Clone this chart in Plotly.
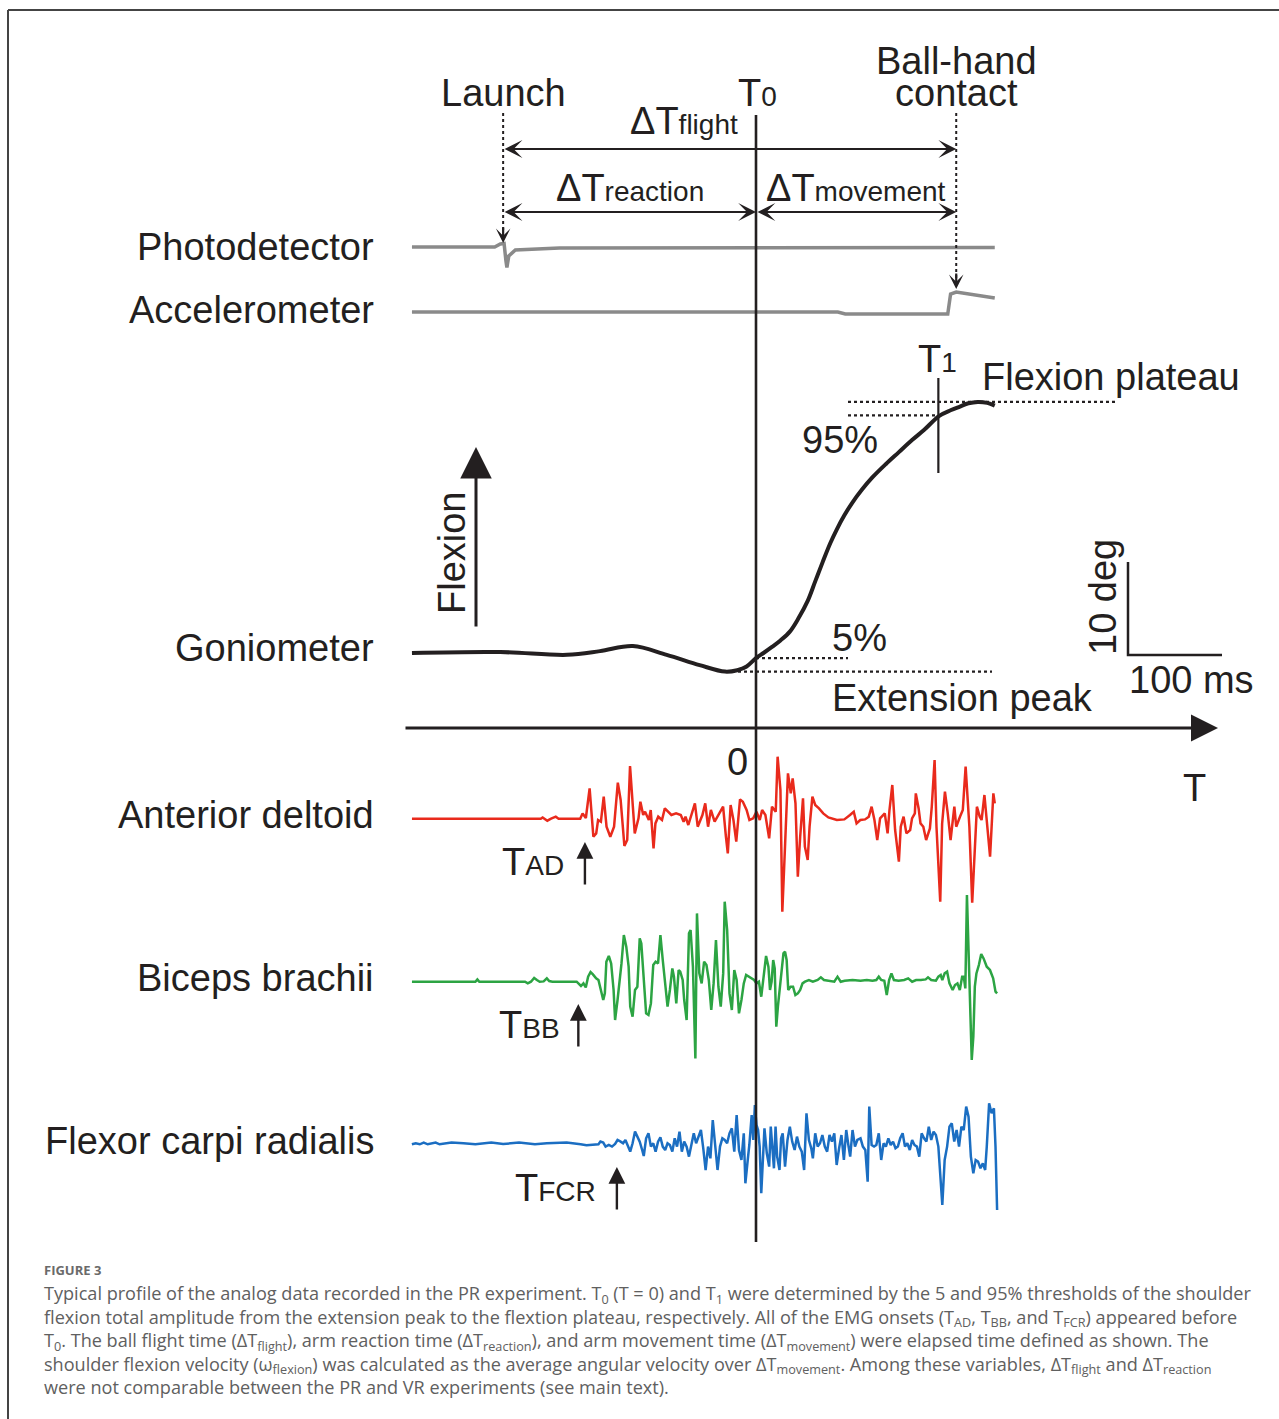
import plotly.graph_objects as go

# ---------------- data (time in ms relative to T0 = 0) ----------------
photo_t = [-366, -278, -272, -268, -266, -265, -263, -256, -209, 0, 254]
photo_v = [0, 0, 3, 3.5, -14, -20.5, -9, -3, -1, -0.5, -0.5]

acc_t = [-366, 87, 95, 204, 207, 213, 254]
acc_v = [0, 0, -2, -2, 18, 20, 14]

gonio_t = [-366, -272, -201, -166, -131, -95, -60, -33, -20, -10, 0, 8, 17, 26, 36, 45,
           55, 63, 71, 79, 86, 94, 102, 113, 124, 138, 152, 166, 179, 195, 207, 217, 226,
           236, 246, 254]
gonio_deg = [0, 0.1, -0.2, 0.2, 0.75, -0.2, -1.3, -2.0, -1.85, -1.45, -0.55, 0.0, 0.65,
             1.35, 2.3, 3.7, 5.6, 7.7, 9.8, 11.8, 13.3, 14.8, 16.1, 17.6, 18.9, 20.3,
             21.6, 22.9, 24.0, 25.5, 26.1, 26.5, 26.85, 27.0, 26.9, 26.6]

ad_t = [-366, -229, -227, -222, -218, -213, -210, -187, -184.5, -181, -177, -173, -170,
        -168, -165, -162, -159, -155, -151, -147, -144, -140, -137, -134, -131, -129,
        -125, -123, -120, -118, -114, -112, -109, -107, -104, -100, -97, -93, -90, -85,
        -80, -77, -75, -72, -69, -65, -62, -59, -57, -54, -51, -48, -44, -41, -37, -35,
        -32, -30, -27, -24, -21, -17, -14, -10, -7, -3, 0.5, 4, 6.5, 10, 14, 17, 21, 23,
        26, 28, 31, 34, 37, 39, 42, 44.5, 47, 50, 52, 55, 57, 60, 63, 67, 71.5, 77, 86,
        94, 100, 104, 107, 111, 116, 120, 123, 126, 129, 132, 137, 140, 142, 145, 148,
        152, 154, 157, 160, 164, 166, 169, 170, 173, 175, 178, 181, 185, 187, 190, 192,
        196, 198, 201, 204, 207, 211, 213, 217, 220, 223, 227, 230, 233, 235, 238, 240,
        243, 246, 249, 252.5, 254]
ad_v = [0, 0, 1.3, -2, 0, 2, 0, 0, 5.3, 0.7, 30.3, -18, -14.7, -1.3, -3, 22, -8, -18,
        -8, 36, 18.7, -27.3, -21.3, 52.7, 12, -14.7, 0.3, 17, 3.7, 7, -1.3, 8.7, -29.7,
        -4.7, 2, -1.3, 10.3, 7, 3.7, 5.3, 3.7, -3, 2, -6.3, 3.7, 15.3, -8, -1.3, 3.7,
        15.3, -8, 8.7, -3, 2, 8.7, 12, -18, -34.7, 13.7, -1.3, -23, 19.3, 17, 8.7, -1.3,
        0.3, 7, -1.3, 8.7, 3.7, -19.7, 12, 7, 62, 28.7, -93, -24.7, 45.3, 25.3, 40.3,
        15.3, -58, -18, 20.3, -28, -41.3, -8, 22, 13.7, 10.3, 5.3, 1.3, -1.3, -0.7, 3.7,
        7, -4.7, -1.3, -0.7, 2, 12, -1.3, -21.3, 0.3, 5.3, -14.7, 8.7, 33.7, -11.3, -43,
        -8, 2, -14.7, -11.3, 0.3, 5.3, 25.3, 10.3, -4.7, -8, -21.3, -9.7, 12, 58.7, -8,
        -83, -5, 27, 5.3, -21.3, 12, -8, 2, 8.7, 52, -8, -84, -18, 12, 2, -1.3, 23.7,
        -11.3, -38, 25.3, 15.3]

bb_t = [-366, -298.5, -296.4, -294.3, -245.7, -242.8, -239.4, -236.0, -233.1, -230.1,
        -225.9, -222.5, -220.0, -216.6, -190.8, -188.7, -186.2, -183.6, -181.1, -178.6,
        -176.0, -173.5, -170.1, -167.6, -165.1, -162.5, -160.8, -159.2, -156.6, -154.1,
        -151.5, -149.9, -147.3, -144.8, -143.1, -140.6, -138.0, -135.5, -133.8, -131.3,
        -128.7, -126.2, -123.7, -122.0, -119.4, -116.9, -114.4, -111.8, -109.3, -106.8,
        -104.2, -101.7, -99.2, -96.6, -94.1, -91.6, -89.0, -87.3, -84.8, -82.3, -80.6,
        -78.0, -76.4, -73.8, -71.3, -69.6, -67.1, -64.5, -62.8, -60.3, -57.8, -55.2,
        -52.7, -50.2, -47.6, -45.1, -42.6, -40.0, -37.5, -34.9, -33.3, -30.7, -28.2,
        -25.7, -23.1, -20.6, -18.1, -15.5, -13.0, -10.5, -7.9, -5.4, -2.0, 0.5, 3.1, 5.6,
        8.1, 10.7, 13.2, 14.9, 16.6, 18.3, 19.9, 21.6, 23.3, 25.9, 27.6, 29.2, 30.9, 32.6,
        34.3, 36.8, 39.4, 41.9, 44.5, 47.0, 49.5, 52.1, 56.3, 60.5, 65.6, 69.0, 72.3,
        77.4, 83.3, 86.7, 90.1, 94.3, 102.7, 111.2, 117.9, 123.9, 128.0, 130.6, 133.2,
        136.5, 139.1, 141.6, 144.1, 146.7, 151.7, 157.6, 161.9, 166.1, 170.3, 175.4,
        180.5, 183.0, 186.4, 191.4, 194.0, 196.5, 198.2, 200.7, 203.3, 205.8, 209.2,
        211.7, 214.3, 216.8, 219.3, 221.0, 222.7, 224.4, 226.1, 227.8, 229.5, 231.2,
        232.8, 234.5, 237.1, 239.6, 242.1, 245.5, 248.9, 252.3, 254.8, 256.5]
bb_v = [0, 0, 2.3, 0, 0, -1.7, 0, 3.7, 1.7, 0, 0.3, 3.3, 0.7, 0, 0, -2.3, -4.3, -1.7,
        -5.7, 5, 9.7, 7.3, 3.3, 1.7, -8.3, -18.3, -11.7, 20, 25.7, 18.3, -8.3, -38.3,
        -18.3, 1.7, 18.3, 46.7, 35, 15, -25, -35, -8.3, -5, 43.3, 38.3, 1.7, -31.7, -33.3,
        -21.7, 16.7, 20, 18.3, 46.7, 21.7, -5, -25, -8.3, 13.3, 5, -21.7, 11.7, 10, 1.7,
        -18.3, -38.3, 48.3, 51.7, 15, -76.7, 68.3, 8.3, -1.7, 20, 16.7, 1.7, -28.3, -1.7,
        41.7, -5, -25, 8.3, 80, 51.7, -11.7, -28.3, 11.7, 1.7, -31.7, -18.3, -1.7, 6.7, 5,
        3.3, 1.7, -1.7, 0, -15, 8.3, 25.7, 15, -8.3, 0, 21.7, 13.3, -45, -25, -1.7, 8.3,
        28.3, 30, 21.7, -8.3, -5, -5, -13.3, -11.7, -8.3, -1.7, 0, 1.7, 0, 1.7, 4.3, 1.7,
        1, 0, 5, 0, 1, 1.7, 1, 1.7, 1, 1.7, 5, 1.7, 1, -13.3, 1.7, 8.3, 1.7, 1, 1.7, 3.3,
        0, 1.7, 1.7, 2.3, 4.3, 1.7, 1, 5, 6.7, 1.7, 8.3, 10, -1.7, -8.3, -3.3, -1.7, -8.3,
        5, 5, -6.7, 86.7, 35, -38.3, -78.3, -55, -5, 8.3, 16.7, 27.7, 23.3, 15, 11.7, 3.3,
        -10, -11.7]

fcr_t = [-366.1, -361.9, -357.7, -353.5, -349.2, -340.8, -336.6, -323.9, -311.2, -298.5,
         -281.6, -269.0, -252.1, -235.2, -222.5, -201.4, -186.6, -180.3, -167.6, -165.5,
         -162.5, -160.0, -156.6, -153.2, -149.9, -147.3, -144.0, -141.4, -138.9, -136.3,
         -133.8, -131.3, -128.7, -126.2, -123.7, -121.1, -119.4, -116.9, -114.4, -111.8,
         -109.3, -106.8, -104.2, -101.7, -99.2, -96.6, -94.1, -91.6, -89.0, -86.5, -84.0,
         -81.4, -78.9, -76.4, -73.8, -71.3, -68.8, -66.2, -63.7, -61.2, -58.6, -56.1,
         -53.6, -51.0, -48.5, -46.0, -43.4, -40.9, -38.3, -35.8, -33.3, -30.7, -28.2,
         -25.7, -23.1, -20.6, -18.1, -15.5, -13.0, -11.3, -8.8, -7.1, -4.6, -2.9, -1.2,
         0.5, 2.2, 3.9, 5.6, 7.3, 9.0, 11.5, 14.0, 15.7, 17.4, 19.1, 20.8, 22.5, 25.0,
         26.7, 28.4, 30.9, 33.5, 36.0, 38.5, 41.1, 43.6, 46.1, 48.7, 51.2, 53.7, 56.3,
         58.8, 60.5, 63.0, 65.6, 68.1, 70.6, 73.2, 75.7, 78.2, 80.8, 83.3, 85.8, 88.4,
         90.9, 93.5, 96.0, 98.5, 100.2, 102.7, 105.3, 107.8, 111.2, 113.7, 116.3, 118.8,
         120.5, 123.0, 125.6, 128.0, 130.6, 133.2, 135.7, 138.2, 140.8, 143.3, 145.8,
         148.4, 150.9, 153.4, 156.0, 158.5, 161.0, 163.6, 166.1, 168.6, 171.2, 173.7,
         176.2, 178.8, 181.3, 183.8, 186.4, 188.9, 191.4, 194.0, 196.5, 198.2, 200.7,
         203.3, 205.8, 208.3, 210.9, 213.4, 216.0, 218.5, 221.0, 223.6, 226.1, 228.6,
         231.2, 233.7, 236.2, 238.8, 241.3, 243.8, 245.5, 248.0, 250.6, 253.1, 254.8,
         256.5]
fcr_v = [0, 1, 0, 1.7, 0, 1.7, 0, 1.7, 1, 0, 1.7, 0.3, 1.7, 0, 1, 1.7, 0, -1, 0, 2.7,
         1.7, -2.3, -0.7, -2.3, 0.3, 4.3, 2.7, 1, 4.3, -2.3, -7.3, 1, 12.7, 7.7, 2.7,
         -5.7, -11.7, 6, 11, -2.3, 1, -7.3, 2.7, 7, -2.3, -5.7, 1, -0.7, -7.3, 6, -2.3,
         12.7, -7.3, 2.7, -2.3, -12.3, -0.7, 11, 1, 7.7, 14.3, -4, -25.7, -2.3, -14, 24.3,
         -5.7, -25.7, -2.3, 6, 4.3, 1, 11, 16, -7.3, 29.3, -5.7, -15.7, 11, -39, -15.7,
         -0.7, 29.3, 4.3, 39.3, 19.3, 14.3, -2.3, -49, -22.3, 16, -9, -22.3, 17.7, -2.3,
         -24, 17.7, -12.3, -25.7, 6, 11, -22.3, 4.3, 17.7, 2.7, -5.7, 7.7, -2.3, -7.3,
         -25.7, 31, 4.3, -4, -14, 11, -2.3, 1, 9.3, -2.3, -7.3, 9.3, 2.7, 11, -20.7, -4,
         9.3, -15.7, 14.3, -2.3, -12.3, 14.3, -2.3, 4.3, 6, -2.3, -5.7, -37.3, 37.7, -0.7,
         -2.3, -0.7, 11, -15.7, 1, -2.3, 6, -0.7, 2.7, -4, -2.3, 6, 11, -2.3, 1, -5.7, 4.3,
         -0.7, -2.3, -12.3, 11, 6, 2.7, 17.7, 4.3, 12.7, 9.3, -2.3, -32.3, -60.7, -15.7,
         -2.3, 17.7, 21, 2.7, 14.3, -2.3, 17.7, 14.3, 37.7, 27.7, -12.3, -29, -15.7,
         -17.3, -24, -19, -25.7, -2.3, 41, 31, 36, -2.3, -65.7]

# event times (ms)
t_launch = -269
t_contact = 213
t_1 = 194
t_AD, t_BB, t_FCR = -182, -189, -148

channel_labels = ["Photodetector", "Accelerometer", "Goniometer",
                  "Anterior deltoid", "Biceps brachii", "Flexor carpi radialis"]

# ---------------- layout constants ----------------
W, H = 1279, 1419
PX_PER_MS = 0.94
T0_PX = 756
DEG_PX = 9.3


def X(px):
    return (px - T0_PX) / PX_PER_MS


BASE = {"photo": 247, "acc": 312, "gonio": 653, "ad": 818.7, "bb": 981.7, "fcr": 1144.3}
LABEL_Y = [247, 310, 648, 815, 978, 1141]
INK = "#231f20"
GREY = "#8a8a8a"
RED = "#e92a1c"
GREEN = "#2ca443"
BLUE = "#1b6ec2"
FONT = "Liberation Sans"


def sub(s):
    return '<span style="font-size:28px">' + s + '</span>'


fig = go.Figure()


def add_line(x, y, color, width, dash=None, shape="linear"):
    fig.add_trace(go.Scatter(x=x, y=y, mode="lines", hoverinfo="skip", showlegend=False,
                             line=dict(color=color, width=width, dash=dash, shape=shape)))


def sig(t, v, base, gain, color, width, shape="linear"):
    add_line(t, [base - gain * a for a in v], color, width, shape=shape)


# signals
sig(photo_t, photo_v, BASE["photo"], 1, GREY, 3.5)
sig(acc_t, acc_v, BASE["acc"], 1, GREY, 3.5)
sig(gonio_t, gonio_deg, BASE["gonio"], DEG_PX, INK, 4, shape="spline")
sig(ad_t, ad_v, BASE["ad"], 1, RED, 2.5)
sig(bb_t, bb_v, BASE["bb"], 1, GREEN, 2.5)
sig(fcr_t, fcr_v, BASE["fcr"], 1, BLUE, 2.5)

# goniometer thresholds
ext = min(gonio_deg)
plat = max(gonio_deg)
amp = plat - ext
lvl5 = ext + 0.05 * amp
lvl95 = ext + 0.95 * amp
gy = lambda d: BASE["gonio"] - d * DEG_PX
add_line([0, X(848)], [gy(lvl5)] * 2, INK, 2.2, dash="dot")
add_line([X(720), X(992)], [gy(ext)] * 2, INK, 2.2, dash="dot")
add_line([X(848), t_1], [gy(lvl95)] * 2, INK, 2.2, dash="dot")
add_line([X(848), X(1118)], [gy(plat)] * 2, INK, 2.2, dash="dot")
add_line([t_1, t_1], [378, 473], INK, 2.2)

# T0 vertical line
add_line([0, 0], [115, 1242], INK, 2.6)

# launch / contact dotted markers
add_line([t_launch, t_launch], [113, 232], INK, 2, dash="dot")
add_line([t_contact, t_contact], [113, 278], INK, 2, dash="dot")

# scale bar: 10 deg / 100 ms
sb_x = X(1128)
add_line([sb_x, sb_x, sb_x + 100], [BASE["gonio"] + 2 - 10 * DEG_PX, BASE["gonio"] + 2,
                                    BASE["gonio"] + 2], INK, 2.5)

ann = []


def arrow(x, y, ax, ay, head=3, width=2.2, size=1.2, both=False):
    ann.append(dict(x=x, y=y, ax=ax, ay=ay, xref="x", yref="y", axref="x", ayref="y",
                    text="", showarrow=True, arrowhead=head, startarrowhead=head,
                    arrowwidth=width, arrowsize=size, startarrowsize=size,
                    arrowcolor=INK, standoff=0, startstandoff=0,
                    arrowside="end+start" if both else "end"))


arrow(t_contact, 149, t_launch, 149, both=True, size=1.35)
arrow(0, 212, t_launch, 212, both=True, size=1.35)
arrow(t_contact, 212, 0, 212, both=True, size=1.35)
arrow(t_launch, 243, t_launch, 226, size=1.1)
arrow(t_contact, 289, t_contact, 272, size=1.1)
arrow(X(1218), 728, X(404), 728, head=2, width=3, size=1.8)
arrow(X(476), 447, X(476), 628, head=2, width=3, size=2.1)
arrow(t_AD, 842, t_AD, 886, head=2, width=2.4, size=1.4)
arrow(t_BB, 1004, t_BB, 1048, head=2, width=2.4, size=1.4)
arrow(t_FCR, 1167, t_FCR, 1211, head=2, width=2.4, size=1.4)


def txt(x, y, s, size=38, xanchor="center", angle=0, color=INK, family=FONT, yanchor="middle",
        xref="x", align="center"):
    ann.append(dict(x=x, y=y, xref=xref, yref="y", text=s, showarrow=False,
                    xanchor=xanchor, yanchor=yanchor, textangle=angle, align=align,
                    font=dict(family=family, size=size, color=color)))


for lab, ly in zip(channel_labels, LABEL_Y):
    txt(X(376), ly, lab, xanchor="right")

txt(X(503), 93, "Launch")
txt(X(757), 93, "T" + sub("0"))
txt(X(956), 61, "Ball-hand")
txt(X(956), 93, "contact")
txt(X(684), 121, "ΔT" + sub("flight"))
txt(X(630), 188, "ΔT" + sub("reaction"))
txt(X(856), 188, "ΔT" + sub("movement"))
txt(X(937), 359, "T" + sub("1"))
txt(X(980), 377, "Flexion plateau", xanchor="left")
txt(X(800), 440, "95%", xanchor="left")
txt(X(830), 638, "5%", xanchor="left")
txt(X(830), 698, "Extension peak", xanchor="left")
txt(X(1103), 597, "10 deg", angle=-90)
txt(X(1191), 680, "100 ms")
txt(X(737), 762, "0")
txt(X(1194), 788, "T")
txt(X(452), 553, "Flexion", angle=-90)
txt(X(566), 862, "T" + sub("AD"), xanchor="right")
txt(X(562), 1025, "T" + sub("BB"), xanchor="right")
txt(X(598), 1188, "T" + sub("FCR"), xanchor="right")

# caption
CAP = "#606060"
CAP_FONT = "Open Sans"
txt(42 / W, 1270, "<b>FIGURE 3</b>", size=13, xanchor="left", color="#6a6a6a",
    family=CAP_FONT, xref="paper")
caption_lines = [
    "Typical profile of the analog data recorded in the PR experiment. T<sub>0</sub> (T = 0) and T<sub>1</sub> were determined by the 5 and 95% thresholds of the shoulder",
    "flexion total amplitude from the extension peak to the flextion plateau, respectively. All of the EMG onsets (T<sub>AD</sub>, T<sub>BB</sub>, and T<sub>FCR</sub>) appeared before",
    "T<sub>0</sub>. The ball flight time (ΔT<sub>flight</sub>), arm reaction time (ΔT<sub>reaction</sub>), and arm movement time (ΔT<sub>movement</sub>) were elapsed time defined as shown. The",
    "shoulder flexion velocity (ω<sub>flexion</sub>) was calculated as the average angular velocity over ΔT<sub>movement</sub>. Among these variables, ΔT<sub>flight</sub> and ΔT<sub>reaction</sub>",
    "were not comparable between the PR and VR experiments (see main text).",
]
txt(42 / W, 1340, "<br>".join(caption_lines), size=18.1, xanchor="left", color=CAP,
    family=CAP_FONT, xref="paper", align="left")

shapes = [
    dict(type="line", xref="paper", yref="y", x0=8 / W, x1=1, y0=10, y1=10,
         line=dict(color="#444444", width=2)),
    dict(type="line", xref="paper", yref="y", x0=8 / W, x1=8 / W, y0=10, y1=H,
         line=dict(color="#444444", width=2)),
]

fig.update_layout(
    width=W, height=H, autosize=False,
    margin=dict(l=0, r=0, t=0, b=0, pad=0),
    paper_bgcolor="white", plot_bgcolor="white",
    xaxis=dict(range=[X(0), X(W)], visible=False, fixedrange=True),
    yaxis=dict(range=[H, 0], visible=False, fixedrange=True),
    annotations=ann, shapes=shapes, showlegend=False,
)

fig.write_html("out.html")
